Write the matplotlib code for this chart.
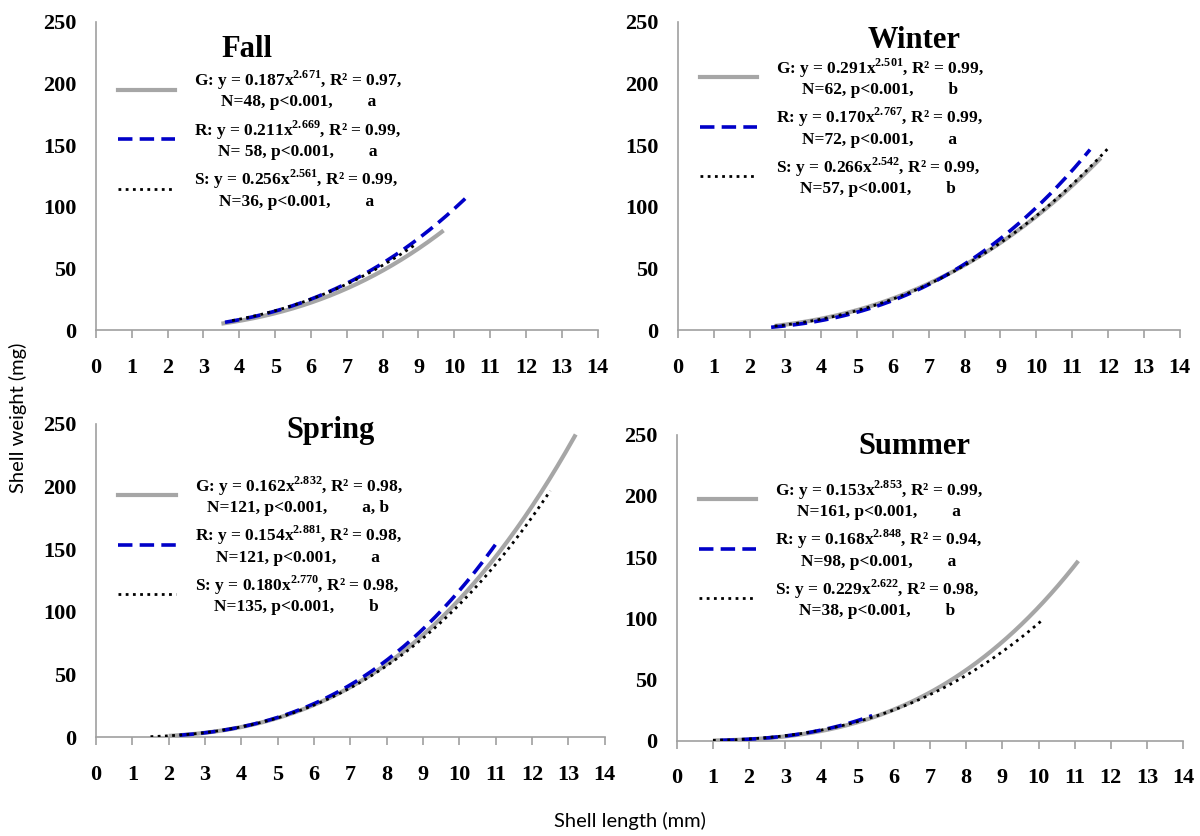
import numpy as np
import matplotlib
matplotlib.use('Agg')
import matplotlib.pyplot as plt
from matplotlib.lines import Line2D

plt.rcParams['font.family'] = ['Liberation Serif', 'DejaVu Serif']
plt.rcParams['font.weight'] = 'bold'
plt.rcParams['mathtext.fontset'] = 'custom'
plt.rcParams['mathtext.rm'] = 'Liberation Serif:weight=bold'
plt.rcParams['mathtext.bf'] = 'Liberation Serif:weight=bold'

# ---- data: fitted power curves W = a * L^b per season, groups G / R / S ----
seasons = ['Fall', 'Winter', 'Spring', 'Summer']
groups = ['G', 'R', 'S']
a_coef = [[0.187, 0.211, 0.256],
          [0.291, 0.170, 0.266],
          [0.162, 0.154, 0.180],
          [0.153, 0.168, 0.229]]
b_exp = [[2.671, 2.669, 2.561],
         [2.501, 2.767, 2.542],
         [2.832, 2.881, 2.770],
         [2.853, 2.848, 2.622]]
r_sq = [[0.97, 0.99, 0.99],
        [0.99, 0.99, 0.99],
        [0.98, 0.98, 0.98],
        [0.99, 0.94, 0.98]]
n_obs = [['48', ' 58', '36'],
         ['62', '72', '57'],
         ['121', '121', '135'],
         ['161', '98', '38']]
letters = [['a', 'a', 'a'],
           ['b', 'a', 'b'],
           ['a, b', 'a', 'b'],
           ['a', 'a', 'b']]
# observed length range of each group (mm)
len_min = [[3.5, 3.6, 3.8],
           [2.7, 2.6, 2.7],
           [2.0, 2.3, 1.5],
           [1.0, 1.2, 1.0]]
len_max = [[9.7, 10.4, 8.9],
           [11.8, 11.5, 12.0],
           [13.2, 11.0, 12.5],
           [11.1, 5.4, 10.1]]

x_ticks = list(range(0, 15))
y_ticks = [0, 50, 100, 150, 200, 250]

# ---- styles ----
styles = [dict(color='#a6a6a6', lw=3.0, ls='-', zorder=2),
          dict(color='#0000c8', lw=2.6, ls=(0, (4, 2)), zorder=3),
          dict(color='black', lw=2.0, ls=(0, (1, 1.6)), zorder=4)]

# axes rectangles in figure fraction
rects = [[0.080, 0.605, 0.418, 0.369],
         [0.565, 0.605, 0.418, 0.369],
         [0.080, 0.118, 0.424, 0.375],
         [0.564, 0.114, 0.422, 0.366]]
title_pos = [(0.30, 0.91), (0.47, 0.94), (0.46, 0.98), (0.47, 0.96)]
legend_pos = [(0.03, 0.87), (0.03, 0.91), (0.03, 0.86), (0.03, 0.88)]

fig = plt.figure(figsize=(12, 8.36), dpi=100)

for k, season in enumerate(seasons):
    ax = fig.add_axes(rects[k])
    handles, labels = [], []
    for g in range(3):
        xs = np.linspace(len_min[k][g], len_max[k][g], 200)
        ys = a_coef[k][g] * xs ** b_exp[k][g]
        ax.plot(xs, ys, solid_capstyle='butt', **styles[g])
        handles.append(Line2D([], [], **styles[g]))
        labels.append(
            f"{groups[g]}: y = {a_coef[k][g]:.3f}x$^{{\\mathbf{{{b_exp[k][g]:.3f}}}}}$, R² = {r_sq[k][g]:.2f},\n"
            f"N={n_obs[k][g]}, p<0.001,        {letters[k][g]}")

    ax.set_xlim(0, 14)
    ax.set_ylim(0, 250)
    ax.set_xticks(x_ticks)
    ax.set_yticks(y_ticks)
    ax.tick_params(axis='x', direction='out', length=6, width=1.2, color='#a0a0a0',
                   labelsize=16, pad=14)
    ax.tick_params(axis='y', length=0, labelsize=16, pad=14)
    for side in ['top', 'right']:
        ax.spines[side].set_visible(False)
    for side in ['left', 'bottom']:
        ax.spines[side].set_color('#a0a0a0')
        ax.spines[side].set_linewidth(1.2)
    ax.patch.set_alpha(0)

    ax.text(title_pos[k][0], title_pos[k][1], season, transform=ax.transAxes,
            ha='center', va='center', fontsize=22, fontweight='bold')

    leg = ax.legend(handles, labels, loc='upper left', bbox_to_anchor=legend_pos[k],
                    frameon=False, fontsize=12.5, handlelength=3.3,
                    handletextpad=1.1, labelspacing=0.45, borderaxespad=0)
    for t in leg.get_texts():
        t.set_multialignment('center')

fig.text(0.015, 0.5, 'Shell weight (mg)', rotation=90, ha='center', va='center',
         fontsize=14.5, family=['Lato', 'DejaVu Sans'], fontweight='normal')
fig.text(0.525, 0.018, 'Shell length (mm)', ha='center', va='center',
         fontsize=14.5, family=['Lato', 'DejaVu Sans'], fontweight='normal')

fig.savefig('out.png', dpi=100)
